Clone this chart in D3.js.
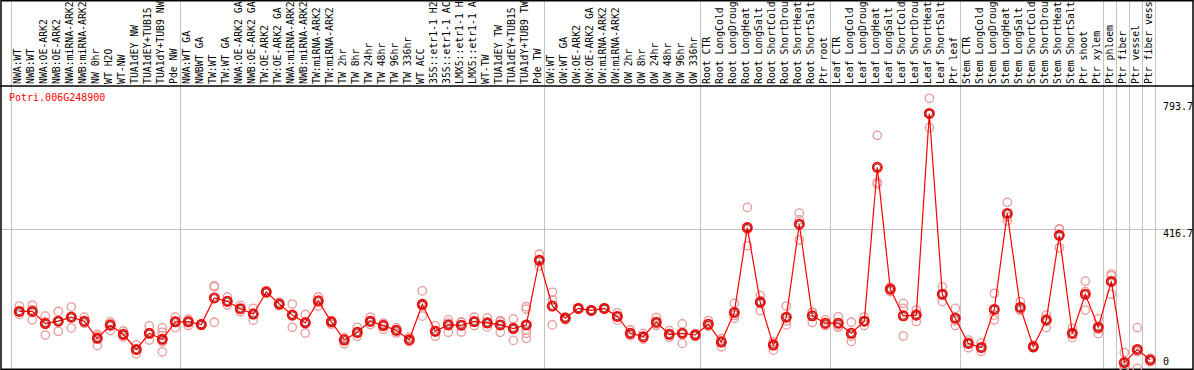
<!DOCTYPE html>
<html><head><meta charset="utf-8">
<script src="https://cdn.jsdelivr.net/npm/d3@7"></script>
<style>
body{margin:0;background:#fff}
svg{display:block}
text{font-family:"DejaVu Sans Mono",monospace;font-size:10px}
</style>
</head><body>
<svg id="chart" width="1194" height="370"></svg>
<script>
const geneId = "Potri.006G248900";
const categories = [
"NWA:WT","NWB:WT","NWA:OE-ARK2","NWB:OE-ARK2","NWA:miRNA-ARK2","NWB:miRNA-ARK2","NW 0hr","WT H2O","WT-NW","TUA1dEY NW","TUA1dEY+TUB15","TUA1dY+TUB9 NW","Pde NW",
"NWA:WT GA","NWBWT GA","TW:WT","TW:WT GA","NWA:OE-ARK2 GA","NWB:OE-ARK2 GA","TW:OE-ARK2","TW:OE-ARK2 GA","NWA:miRNA-ARK2","NWB:miRNA-ARK2","TW:miRNA-ARK2","TW:miRNA-ARK2","TW 2hr","TW 8hr","TW 24hr","TW 48hr","TW 96hr","TW 336hr","WT ACC","35S::etr1-1 H2","35S::etr1-1 AC","LMX5::etr1-1 H","LMX5::etr1-1 A","WT-TW","TUA1dEY TW","TUA1dEY+TUB15","TUA1dY+TUB9 TW","Pde TW",
"OW:WT","OW:WT GA","OW:OE-ARK2","OW:OE-ARK2 GA","OW:miRNA-ARK2","OW:miRNA-ARK2","OW 2hr","OW 8hr","OW 24hr","OW 48hr","OW 96hr","OW 336hr",
"Root CTR","Root LongCold","Root LongDroug","Root LongHeat","Root LongSalt","Root ShortCold","Root ShortDrou","Root ShortHeat","Root ShortSalt","Ptr root",
"Leaf CTR","Leaf LongCold","Leaf LongDroug","Leaf LongHeat","Leaf LongSalt","Leaf ShortCold","Leaf ShortDrou","Leaf ShortHeat","Leaf ShortSalt","Ptr leaf",
"Stem CTR","Stem LongCold","Stem LongDroug","Stem LongHeat","Stem LongSalt","Stem ShortCold","Stem ShortDrou","Stem ShortHeat","Stem ShortSalt","Ptr shoot","Ptr xylem",
"Ptr phloem","Ptr fiber","Ptr vessel","Ptr fiber vess"
];
const means = [
171,171,135,142,154,142,91,130,103,58,106,88,140,
140,132,211,201,179,163,229,193,160,137,202,140,86,109,142,129,115,87,192,112,131,130,141,137,131,120,131,323,
187,151,180,174,180,156,106,96,139,103,106,101,
133,80,168,420,198,71,154,430,158,136,
136,106,142,599,237,158,160,759,222,151,
76,64,177,462,183,66,145,397,106,222,124,
260,19,58,27
];
const replicates = [
[187,162,171],[190,146,176],[157,101,140],[171,112,142],[184,122,156],[154,136,138],[103,70,98],[140,114,135],[113,95,100],[72,46,56],[128,86,104],[122,109,99,81,51],[154,123,142],
[148,129,142],[134,131,130],[247,244,139],[214,190,200],[189,170,178],[180,145,165],[233,225,229],[198,188,193],[193,124,163],[162,107,140],[214,187,205],[143,133,142],[93,75,90],[124,97,106],[154,132,139],[136,118,132],[123,107,114],[95,81,85],[232,157,187],[128,97,111],[146,109,137],[139,110,140],[154,129,139],[152,125,134],[144,109,140],[149,85,125],[185,178,116,106,91,130],[341,306,322],
[228,205,131],[155,146,151],[182,178,180],[176,172,174],[182,178,180],[167,145,157],[116,99,103],[106,89,93],[153,129,134],[114,94,101],[134,76,108],[105,97,101],
[144,128,127],[90,66,84],[195,151,159],[480,366,414],[218,173,203],[81,56,76],[187,131,143],[463,383,443],[168,138,169],[146,129,132],
[155,124,128],[139,82,97],[154,129,142],[694,554,549],[243,230,237],[195,180,98],[175,141,164],[804,717,757],[244,200,222],[180,129,143],
[86,63,79],[78,52,63],[225,146,160],[495,440,452],[200,175,175],[70,63,66],[160,123,150],[416,360,415],[121,93,104],[261,175,230],[149,105,118],
[282,222,277],[49,7,1],[123,2,51],[32,22,27]
];
const groupBounds = [0,13,41,53,63,73,84,85,86,87,88];
const axisTicks = [793.7, 416.7, 0];
const gridValues = [416.7];

const W = 1194, H = 370;
const plotTop = 86, plotBottom = 369, plotLeft = 1, plotRight = 1193;
const svg = d3.select("#chart");

const xb = d3.scaleLinear().domain([0, 88]).range([11.3, 1155.3]);
const xp = i => xb(i) + 8;
const y = d3.scaleLinear().domain([0, 416.7]).range([369, 228.7]);

svg.append("rect").attr("width", W).attr("height", H).attr("fill", "#fff");

svg.append("g").selectAll("line").data(groupBounds).join("line")
  .attr("x1", d => Math.round(xb(d)) + 0.5).attr("x2", d => Math.round(xb(d)) + 0.5)
  .attr("y1", 0).attr("y2", plotBottom)
  .attr("stroke", "#c3c3c3").attr("stroke-width", 1);

svg.append("g").selectAll("line").data(gridValues).join("line")
  .attr("x1", plotLeft).attr("x2", plotRight)
  .attr("y1", d => Math.round(y(d)) + 0.5).attr("y2", d => Math.round(y(d)) + 0.5)
  .attr("stroke", "#c3c3c3").attr("stroke-width", 1);

svg.append("g")
  .selectAll("text").data(categories).join("text")
  .attr("transform", (d, i) => `translate(${xp(i) + 2},84) rotate(-90)`)
  .attr("fill", "#000")
  .style("font-size", "9.8px")
  .text(d => d);

svg.append("line").attr("x1", 0).attr("x2", W).attr("y1", plotTop).attr("y2", plotTop)
  .attr("stroke", "#000").attr("stroke-width", 1.5);
svg.append("rect").attr("x", 1).attr("y", 0.75).attr("width", 1192).attr("height", 368.5)
  .attr("fill", "none").attr("stroke", "#000").attr("stroke-width", 1.5);

const repData = [];
replicates.forEach((arr, i) => arr.forEach(v => repData.push({i, v})));
svg.append("g").selectAll("circle").data(repData).join("circle")
  .attr("cx", d => xp(d.i)).attr("cy", d => y(d.v)).attr("r", 4.2)
  .attr("fill", "none").attr("stroke", "#eb9a9a").attr("stroke-width", 1.3);

svg.append("path").datum(means)
  .attr("d", d3.line().x((d, i) => xp(i)).y(d => y(d)))
  .attr("fill", "none").attr("stroke", "#ff0000").attr("stroke-width", 1.2);

const mg = svg.append("g");
mg.selectAll("circle.o").data(means).join("circle").attr("class", "o")
  .attr("cx", (d, i) => xp(i)).attr("cy", d => y(d)).attr("r", 4.6)
  .attr("fill", "none").attr("stroke", "#ff0000").attr("stroke-width", 1.8);
mg.selectAll("circle.k").data(means).join("circle").attr("class", "k")
  .attr("cx", (d, i) => xp(i)).attr("cy", d => y(d)).attr("r", 3.3)
  .attr("fill", "none").attr("stroke", "#700000").attr("stroke-width", 0.8);

svg.append("g").selectAll("text").data(axisTicks).join("text")
  .attr("x", 1163)
  .attr("y", d => Math.min(y(d) + 8.3, 364.5))
  .attr("fill", "#000")
  .text(d => d);

svg.append("text").attr("x", 9).attr("y", 101).attr("fill", "#ff0000").text(geneId);
</script>
</body></html>
